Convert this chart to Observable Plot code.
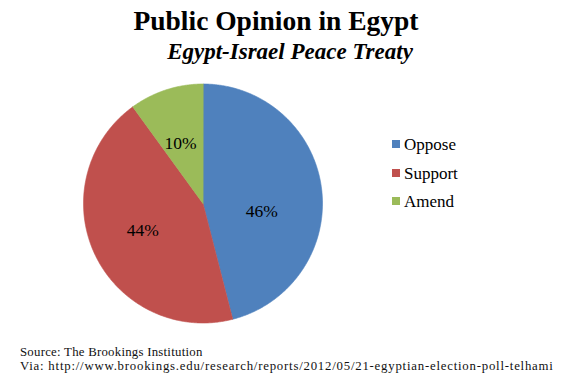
<!DOCTYPE html>
<html>
<head>
<meta charset="utf-8">
<script src="https://cdn.jsdelivr.net/npm/d3@7"></script>
<script src="https://cdn.jsdelivr.net/npm/@observablehq/plot@0.6"></script>
<style>
  html, body { margin: 0; padding: 0; background: #fff; }
  #wrap { position: relative; width: 579px; height: 381px; overflow: hidden; font-family: "Liberation Serif", serif; color: #000; }
  #chart { position: absolute; left: 0; top: 0; }
  .abs { position: absolute; white-space: nowrap; line-height: 1; }
  #title { left: 276px; top: 6.5px; transform: translateX(-50%); font-size: 27.5px; font-weight: bold; }
  #subtitle { left: 290px; top: 40px; transform: translateX(-50%); font-size: 23px; font-weight: bold; font-style: italic; }
  .leg { position: absolute; left: 392px; font-size: 17px; line-height: 1; white-space: nowrap; }
  .leg .sw { position: absolute; left: 0; width: 8px; height: 8px; }
  .leg .lt { position: absolute; left: 12px; }
  #src1, #src2 { left: 20px; font-size: 12.8px; line-height: 13px; color: #111; }
  #src1 { letter-spacing: 0.25px; }
  #src2 { letter-spacing: 0.78px; }
</style>
</head>
<body>
<div id="wrap">
  <div id="chart"></div>
  <div id="title" class="abs"></div>
  <div id="subtitle" class="abs"></div>
  <div id="legend"></div>
  <div id="src1" class="abs"></div>
  <div id="src2" class="abs"></div>
</div>
<script>
const titleText = "Public Opinion in Egypt";
const subtitleText = "Egypt-Israel Peace Treaty";
const categories = ["Oppose", "Support", "Amend"];
const values = [46, 44, 10];
const colors = ["#4F81BD", "#C0504D", "#9BBB59"];
const sourceLines = [
  "Source: The Brookings Institution",
  "Via: http://www.brookings.edu/research/reports/2012/05/21-egyptian-election-poll-telhami"
];

document.getElementById("title").textContent = titleText;
document.getElementById("subtitle").textContent = subtitleText;

// pie geometry from values (clockwise from top)
const pie = d3.pie().sort(null).value(d => d.value);
const arcs = pie(categories.map((c, i) => ({name: c, value: values[i]})));
const points = [];
for (const a of arcs) {
  points.push({name: a.data.name, x: 0, y: 0});
  const n = Math.max(2, Math.ceil((a.endAngle - a.startAngle) / (Math.PI / 360)));
  for (let k = 0; k <= n; k++) {
    const t = a.startAngle + (a.endAngle - a.startAngle) * k / n;
    points.push({name: a.data.name, x: Math.sin(t), y: Math.cos(t)});
  }
}
const labels = arcs.map(a => {
  const m = (a.startAngle + a.endAngle) / 2;
  const r = 0.53;
  return {name: a.data.name, label: a.data.value + "%", x: r * Math.sin(m), y: r * Math.cos(m)};
});

const W = 579, H = 381;
const cx = 202.5, cy = 203, R = 119.5;
const chart = Plot.plot({
  width: W,
  height: H,
  marginLeft: cx - R,
  marginRight: W - (cx + R),
  marginTop: cy - R,
  marginBottom: H - (cy + R),
  x: {domain: [-1, 1], axis: null},
  y: {domain: [-1, 1], axis: null},
  color: {domain: categories, range: colors},
  style: {fontFamily: "Liberation Serif", background: "transparent"},
  marks: [
    Plot.line(points, {x: "x", y: "y", z: "name", fill: "name", stroke: "name", strokeWidth: 0.6, curve: "linear-closed"}),
    // Excel "best fit" nudges the Oppose label down
    Plot.text(labels, {filter: d => d.name === "Oppose", x: "x", y: "y", text: "label", fontSize: 17.5, fill: "#000", dx: -4, dy: 16}),
    Plot.text(labels, {filter: d => d.name !== "Oppose", x: "x", y: "y", text: "label", fontSize: 17.5, fill: "#000", dx: -3})
  ]
});
document.getElementById("chart").appendChild(chart);

// legend
const leg = document.getElementById("legend");
categories.forEach((c, i) => {
  const row = document.createElement("div");
  row.className = "leg";
  row.style.top = (136 + i * 28.7) + "px";
  const sw = document.createElement("div");
  sw.className = "sw";
  sw.style.background = colors[i];
  sw.style.top = "4px";
  const lt = document.createElement("div");
  lt.className = "lt";
  lt.textContent = c;
  row.appendChild(sw);
  row.appendChild(lt);
  leg.appendChild(row);
});

const s1 = document.getElementById("src1");
s1.textContent = sourceLines[0];
s1.style.top = "345.7px";
const s2 = document.getElementById("src2");
s2.textContent = sourceLines[1];
s2.style.top = "360.3px";
</script>
</body>
</html>
